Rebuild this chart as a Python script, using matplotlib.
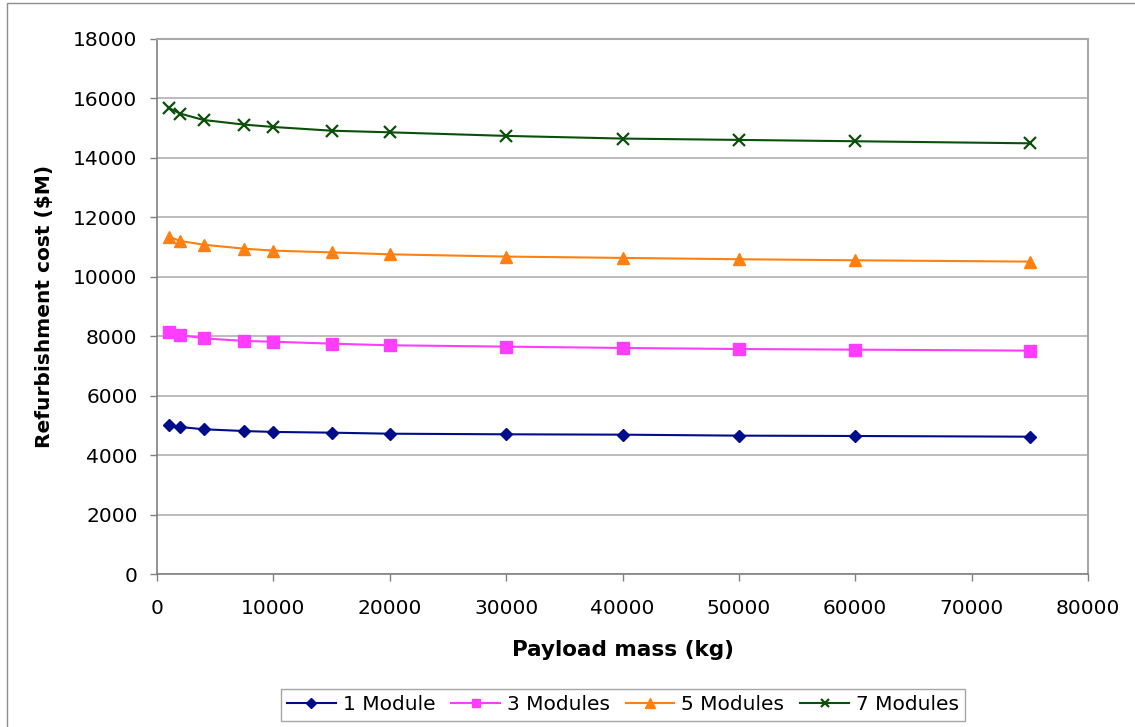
import matplotlib
matplotlib.use("Agg")
import matplotlib.pyplot as plt
from matplotlib.patches import Rectangle

payload_kg = [1000, 2000, 4000, 7500, 10000, 15000, 20000, 30000, 40000, 50000, 60000, 75000]

cost_1_module = [5000, 4945, 4870, 4810, 4780, 4755, 4720, 4700, 4688, 4655, 4643, 4620]
cost_3_modules = [8130, 8040, 7930, 7840, 7815, 7750, 7695, 7650, 7605, 7570, 7548, 7515]
cost_5_modules = [11350, 11205, 11080, 10945, 10880, 10820, 10755, 10680, 10635, 10590, 10555, 10510]
cost_7_modules = [15680, 15490, 15275, 15120, 15040, 14915, 14860, 14740, 14650, 14605, 14560, 14490]

series_labels = ["1 Module", "3 Modules", "5 Modules", "7 Modules"]

plt.rcParams["font.family"] = "DejaVu Sans"

fig = plt.figure(figsize=(11.35, 7.27), dpi=100)
ax = fig.add_axes([157 / 1135, 1 - 574 / 727, 931 / 1135, 535 / 727])

# outer chart frame
fig.patches.append(Rectangle((7 / 1135, -0.1), 1.1, 1 - 3 / 727 + 0.1,
                             transform=fig.transFigure, fill=False,
                             edgecolor="#8c8c8c", linewidth=1.0))

ax.plot(payload_kg, cost_1_module, color="#000c8a", marker="D", markersize=6,
        linewidth=1.5, label=series_labels[0])
ax.plot(payload_kg, cost_3_modules, color="#ff3cff", marker="s", markersize=8,
        linewidth=1.5, label=series_labels[1])
ax.plot(payload_kg, cost_5_modules, color="#ff8010", marker="^", markersize=8.5,
        linewidth=1.5, label=series_labels[2])
ax.plot(payload_kg, cost_7_modules, color="#0a4f0a", marker="x", markersize=8,
        markeredgewidth=1.6, linewidth=1.5, label=series_labels[3])

ax.set_xlim(0, 80000)
ax.set_ylim(0, 18000)
ax.set_xticks(range(0, 80001, 10000))
ax.set_yticks(range(0, 18001, 2000))
ax.tick_params(axis="both", direction="out", length=5, width=1, color="#808080",
               labelsize=14.5)
ax.tick_params(axis="x", pad=13)
ax.tick_params(axis="y", pad=9)
ax.grid(axis="y", color="#b0b0b0", linewidth=1.2)
ax.set_axisbelow(True)
for side in ["top", "right"]:
    ax.spines[side].set_color("#a8a8a8")
    ax.spines[side].set_linewidth(1.5)
for side in ["left", "bottom"]:
    ax.spines[side].set_color("#808080")
    ax.spines[side].set_linewidth(1.2)

ax.set_xlabel("Payload mass (kg)", fontsize=15.5, fontweight="bold", labelpad=16)
ax.set_ylabel("Refurbishment cost ($M)", fontsize=14.5, fontweight="bold", labelpad=14)

leg = fig.legend(loc="center", bbox_to_anchor=(623 / 1135, 1 - 705 / 727),
                 ncol=4, fontsize=14.5, frameon=True, fancybox=False,
                 edgecolor="#909090", handlelength=2.4, handletextpad=0.35,
                 columnspacing=0.8, borderpad=0.3, markerscale=0.8)
leg.get_frame().set_linewidth(1.0)

fig.savefig("out.png", dpi=100, facecolor="white")
